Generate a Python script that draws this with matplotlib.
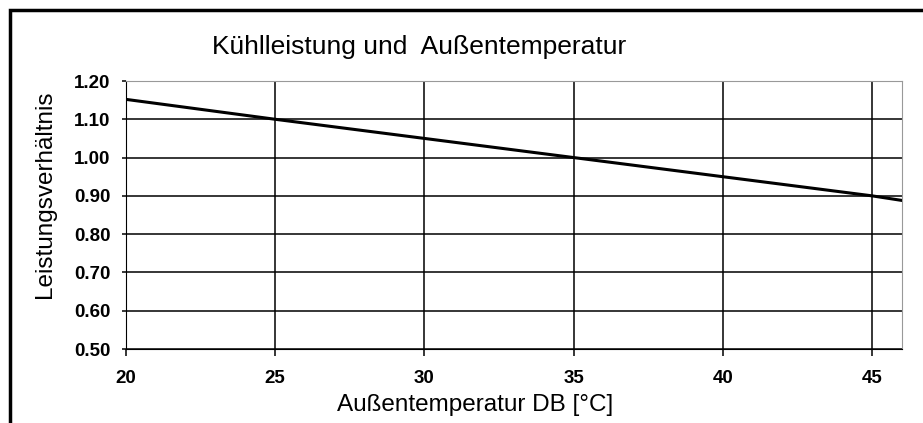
import matplotlib.pyplot as plt
from matplotlib.patches import Rectangle

plt.rcParams['font.family'] = ['Liberation Sans', 'DejaVu Sans']

# Außentemperatur [°C] vs. Leistungsverhältnis
temps = [20, 25, 30, 35, 40, 45, 46]
ratio = [1.152, 1.10, 1.05, 1.00, 0.95, 0.90, 0.888]

xticks = [20, 25, 30, 35, 40, 45]
yticks = [0.50, 0.60, 0.70, 0.80, 0.90, 1.00, 1.10, 1.20]

W, H = 923, 423
fig = plt.figure(figsize=(W / 100, H / 100), dpi=100)
ax = fig.add_axes([126 / W, 1 - 349 / H, (902 - 126) / W, (349 - 81) / H])

ax.plot(temps, ratio, color='black', lw=2.2, zorder=3)

ax.set_xlim(20, 46)
ax.set_ylim(0.5, 1.2)
ax.set_xticks(xticks)
ax.set_yticks(yticks)
ax.set_yticklabels([f"{v:.2f}" for v in yticks])
ax.grid(True, color='black', lw=1.1)
ax.set_axisbelow(True)

for lbl in ax.get_xticklabels() + ax.get_yticklabels():
    lbl.set_fontweight('bold')
ax.tick_params(axis='x', length=5, width=1.1, labelsize=13.5, pad=10)
ax.tick_params(axis='y', length=3, width=1.1, labelsize=13.5, pad=8)

ax.spines['left'].set_color('black')
ax.spines['bottom'].set_color('black')
ax.spines['top'].set_color('#999999')
ax.spines['right'].set_color('#999999')

fig.text(419 / W, 1 - 47 / H, "Kühlleistung und  Außentemperatur",
         ha='center', va='center', fontsize=19)
fig.text(475 / W, 1 - 405 / H, "Außentemperatur DB [°C]",
         ha='center', va='center', fontsize=17.5)
fig.text(45 / W, 1 - 194 / H, "Leistungsverhältnis", rotation=90,
         ha='center', va='center', fontsize=17.5)

# black frame, cut off at right and bottom like the original
fig.add_artist(Rectangle((10 / W, -0.1), 2, 1 - 10 / H + 0.1,
                         transform=fig.transFigure, fill=False,
                         lw=2.5, edgecolor='black'))

fig.savefig("out.png", dpi=100)
